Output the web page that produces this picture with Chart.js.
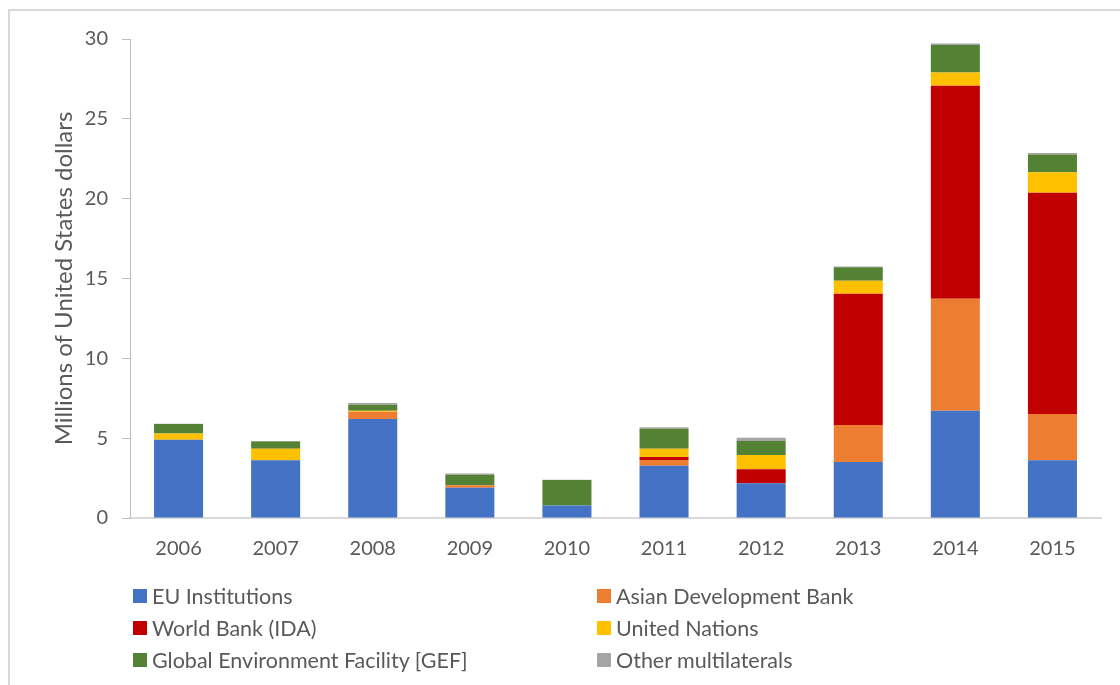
<!DOCTYPE html>
<html>
<head>
<meta charset="utf-8">
<script src="https://cdn.jsdelivr.net/npm/chart.js@4.4.1/dist/chart.umd.min.js"></script>
<style>
  html, body { margin: 0; padding: 0; background: #fff; overflow: hidden; }
  #wrap { position: relative; width: 1120px; height: 685px; overflow: hidden; }
  #frame { position: absolute; left: 8px; top: 9px; width: 2000px; height: 2000px;
           border-top: 2px solid #d9d9d9; border-left: 2px solid #d9d9d9; box-sizing: border-box; }
  #chart { position: absolute; left: 0; top: 0; }
  #legend { position: absolute; left: 0; top: 0; width: 1120px; height: 685px; pointer-events: none;
            font-family: Lato, "Open Sans", sans-serif; font-size: 21.5px; color: #595959; }
  .item { position: absolute; display: flex; align-items: center; white-space: nowrap; }
  .box { width: 14px; height: 14px; margin-right: 5px; flex: none; }
</style>
</head>
<body>
<div id="wrap">
  <div id="frame"></div>
  <canvas id="chart" width="1120" height="685"></canvas>
  <div id="legend"></div>
</div>
<script>
// Multilateral flows by donor group, millions of US dollars
const years = ['2006', '2007', '2008', '2009', '2010', '2011', '2012', '2013', '2014', '2015'];

const euInstitutions = [4.90, 3.61, 6.20, 1.90, 0.78, 3.28, 2.17, 3.51, 6.72, 3.61];
const asianDevBank   = [0.00, -0.15, 0.46, 0.15, -0.15, 0.35, -0.15, 2.31, 7.01, 2.90];
const worldBankIDA   = [0.00, 0.00, 0.00, 0.00, 0.00, 0.19, 0.88, 8.23, 13.34, 13.86];
const unitedNations  = [0.40, 0.73, 0.05, 0.00, 0.00, 0.52, 0.89, 0.81, 0.83, 1.28];
const gef            = [0.58, 0.45, 0.38, 0.64, 1.60, 1.25, 0.88, 0.84, 1.72, 1.12];
const otherMulti     = [0.02, 0.03, 0.12, 0.10, 0.02, 0.09, 0.21, 0.05, 0.10, 0.09];

const yTicks = [0, 5, 10, 15, 20, 25, 30];

const seriesNames = ['EU Institutions', 'Asian Development Bank', 'World Bank (IDA)',
                     'United Nations', 'Global Environment Facility [GEF]', 'Other multilaterals'];
const seriesColors = ['#4472C4', '#ED7D31', '#C00000', '#FFC000', '#548235', '#A5A5A5'];
const seriesValues = [euInstitutions, asianDevBank, worldBankIDA, unitedNations, gef, otherMulti];

const FONT = 'Lato, "Open Sans", sans-serif';
const TEXT = '#595959';

const chart = new Chart(document.getElementById('chart'), {
  type: 'bar',
  data: {
    labels: years,
    datasets: seriesNames.map((name, i) => ({
      label: name,
      data: seriesValues[i],
      backgroundColor: seriesColors[i],
      borderWidth: 0,
      categoryPercentage: 1,
      barPercentage: 0.505
    }))
  },
  options: {
    responsive: false,
    animation: false,
    devicePixelRatio: 1,
    layout: { padding: { left: 50, right: 19, top: 39, bottom: 0 } },
    plugins: {
      legend: { display: false },
      tooltip: { enabled: false }
    },
    scales: {
      x: {
        stacked: true,
        grid: { display: false, drawTicks: false },
        border: { display: true, color: '#d9d9d9', width: 2, z: -1 },
        ticks: { color: TEXT, font: { family: FONT, size: 20 }, padding: 19 },
        afterFit: (s) => { s.height = 167; }
      },
      y: {
        stacked: true,
        min: 0,
        max: 30,
        afterBuildTicks: (s) => { s.ticks = yTicks.map(v => ({ value: v })); },
        grid: { drawOnChartArea: false, drawTicks: true, tickLength: 8, color: '#bfbfbf' },
        border: { display: true, color: '#bfbfbf', width: 1 },
        ticks: { color: TEXT, font: { family: FONT, size: 20 }, padding: 14 },
        title: {
          display: true,
          text: 'Millions of United States dollars',
          color: TEXT,
          font: { family: FONT, size: 24 },
          padding: 0
        },
        afterFit: (s) => { s.width = 80; }
      }
    }
  }
});

// Two-column legend below the plot
const legendEl = document.getElementById('legend');
const colX = [133, 597];
const rowY = [596, 628, 660];
chart.data.datasets.forEach((ds, i) => {
  const item = document.createElement('div');
  item.className = 'item';
  item.style.left = colX[i % 2] + 'px';
  item.style.top = (rowY[Math.floor(i / 2)] - 14) + 'px';
  item.style.height = '28px';
  const box = document.createElement('span');
  box.className = 'box';
  box.style.background = ds.backgroundColor;
  const label = document.createElement('span');
  label.textContent = ds.label;
  item.appendChild(box);
  item.appendChild(label);
  legendEl.appendChild(item);
});
</script>
</body>
</html>
